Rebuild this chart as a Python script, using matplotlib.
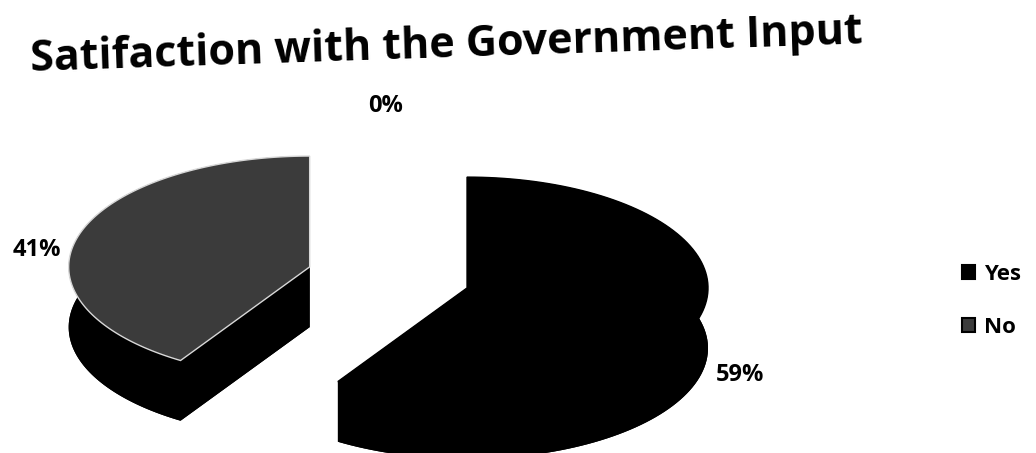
import numpy as np
import matplotlib.pyplot as plt
from matplotlib.patches import Patch

# data
categories = ["Yes", "No", ""]
values = [59, 41, 0]
explode = [0.0, 0.68, 0.0]
top_colors = ["#000000", "#3b3b3b", "#000000"]
title = "Satifaction with the Government Input"

tilt = 0.46     # vertical squash of the ellipse
depth = 0.25    # thickness of the pie
FONT = "Open Sans"


def arc(cx, cy, a0, a1, n=120):
    th = np.radians(np.linspace(a0, a1, n))
    return cx + np.cos(th), cy + tilt * np.sin(th)


fig = plt.figure(figsize=(10.36, 4.53), dpi=100)
ax = fig.add_axes([0, 0, 1, 1])
ax.set_xlim(-1.938, 2.361)
ax.set_ylim(-0.685, 1.195)
ax.axis("off")

total = sum(values)
start = 90.0
slices = []
for cat, v, e, col in zip(categories, values, explode, top_colors):
    sweep = 360.0 * v / total
    a1 = start
    a0 = start - sweep
    mid = np.radians((a0 + a1) / 2)
    cx = e * np.cos(mid)
    cy = e * tilt * np.sin(mid)
    slices.append((cat, v, a0, a1, cx, cy, col))
    start = a0

# sides and bottoms first
for cat, v, a0, a1, cx, cy, col in slices:
    if v == 0:
        continue
    xs, ys = arc(cx, cy, a0, a1)
    ax.fill(np.r_[cx, xs], np.r_[cy - depth, ys - depth], color="black", lw=0)
    ax.fill(np.r_[xs, xs[::-1]], np.r_[ys, ys[::-1] - depth], color="black", lw=0)
    for a in (a0, a1):
        ex = cx + np.cos(np.radians(a))
        ey = cy + tilt * np.sin(np.radians(a))
        ax.fill([cx, ex, ex, cx], [cy, ey, ey - depth, cy - depth], color="black", lw=0)

# top faces
for cat, v, a0, a1, cx, cy, col in slices:
    if v == 0:
        continue
    xs, ys = arc(cx, cy, a0, a1)
    edge = "#d8d8d8" if col != "#000000" else "black"
    ax.fill(np.r_[cx, xs], np.r_[cy, ys], facecolor=col, edgecolor=edge, lw=1.0)

# percentage labels
for cat, v, a0, a1, cx, cy, col in slices:
    if v == 0:
        mid, r = np.radians(103), 1.5
    else:
        mid, r = np.radians((a0 + a1) / 2), 1.18
    lx = cx + r * np.cos(mid)
    ly = cy + r * tilt * np.sin(mid) - (0.145 - 0.233 * np.sin(mid))
    ax.text(lx, ly, f"{v / total * 100:.0f}%", ha="center", va="center",
            fontsize=17, fontweight="bold", family=FONT)

fig.text(446 / 1036, 1 - 46 / 453, title, ha="center", va="center", rotation=1.9,
         fontsize=31, fontweight="bold", family=FONT)

handles = [Patch(facecolor=s[6], edgecolor="black", lw=1.5) for s in slices if s[0]]
fig.legend(handles, [s[0] for s in slices if s[0]], loc="center left",
           bbox_to_anchor=(962 / 1036, 1 - 301 / 453), frameon=False,
           handlelength=0.6, handleheight=0.6, handletextpad=0.4,
           labelspacing=1.45, borderpad=0, borderaxespad=0,
           prop={"family": FONT, "weight": "bold", "size": 16})

fig.savefig("out.png", dpi=100)
